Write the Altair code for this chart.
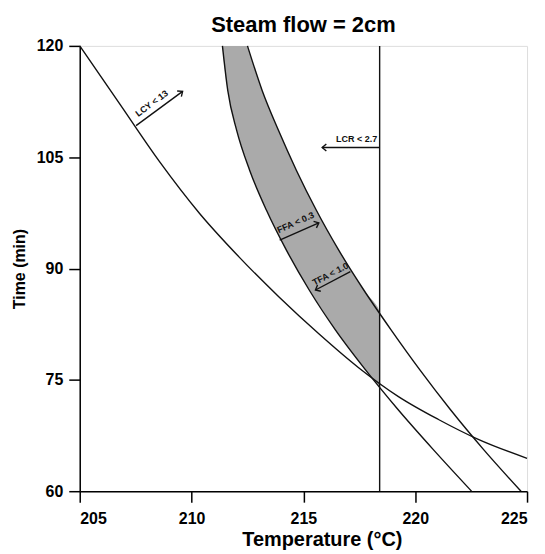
import math
import altair as alt
import pandas as pd

TITLE = "Steam flow = 2cm"
X_TITLE = "Temperature (°C)"
Y_TITLE = "Time (min)"
X_DOMAIN = [205, 225]
Y_DOMAIN = [60, 120]
X_TICKS = [205, 210, 215, 220, 225]
Y_TICKS = [60, 75, 90, 105, 120]

# LCY constraint curve (temperature, time)
LCY_T = [205.0, 206.78, 208.56, 210.35, 212.13, 213.91, 215.69, 217.47, 219.25, 221.04, 222.82, 225.0]
LCY_TIME = [120.0, 112.21, 104.43, 97.45, 91.54, 86.17, 81.21, 76.64, 72.75, 69.66, 66.98, 64.43]

# FFA and TFA constraint curves, read at common times
CURVE_TIME = [120.0, 113.96, 108.59, 103.22, 97.85, 92.48, 87.11, 81.74, 76.38, 71.01, 65.64, 60.0]
FFA_T = [211.38, 211.62, 212.02, 212.60, 213.35, 214.24, 215.26, 216.43, 217.77, 219.23, 220.80, 222.52]
TFA_T = [212.50, 213.16, 213.89, 214.69, 215.58, 216.58, 217.70, 218.92, 220.20, 221.57, 223.05, 224.73]

# LCR constraint (vertical line)
LCR_T = 218.41

# Feasible (shaded) region
GRAY_TIME = [120.0, 113.96, 108.59, 103.22, 97.85, 92.48, 87.11, 84.0, 81.74, 76.38, 74.04]
GRAY_LEFT = [211.38, 211.62, 212.02, 212.60, 213.35, 214.24, 215.26, 215.94, 216.43, 217.77, 218.41]
GRAY_RIGHT = [212.50, 213.16, 213.89, 214.69, 215.58, 216.58, 217.70, 218.41, 218.41, 218.41, 218.41]

# Arrow annotations
ARROW_LABELS = ["LCY < 13", "FFA < 0.3", "TFA < 1.0", "LCR < 2.7"]
ARROW_T0 = [207.52, 213.94, 217.10, 218.41]
ARROW_TIME0 = [109.26, 93.83, 89.57, 106.31]
ARROW_T1 = [209.60, 215.69, 215.54, 215.84]
ARROW_TIME1 = [113.87, 96.15, 87.11, 106.31]
LABEL_T = [208.22, 214.65, 216.21, 217.38]
LABEL_TIME = [112.25, 96.20, 89.26, 107.45]
LABEL_FLIP = [False, False, True, False]

W, H = 449, 447
FONT = "Liberation Sans"

px_T = W / (X_DOMAIN[1] - X_DOMAIN[0])
px_t = H / (Y_DOMAIN[1] - Y_DOMAIN[0])

rows = []
for i, lab in enumerate(ARROW_LABELS):
    dx = (ARROW_T1[i] - ARROW_T0[i]) * px_T
    dy = -(ARROW_TIME1[i] - ARROW_TIME0[i]) * px_t
    ang = math.degrees(math.atan2(dy, dx)) % 360
    tang = (ang + 180) % 360 if LABEL_FLIP[i] else ang
    if lab.startswith("LCR"):
        tang = 0
    rows.append(dict(label=lab, T0=ARROW_T0[i], t0=ARROW_TIME0[i], T1=ARROW_T1[i], t1=ARROW_TIME1[i],
                     LT=LABEL_T[i], Lt=LABEL_TIME[i], ang=round(ang, 2), tang=round(tang, 2)))
arrows = pd.DataFrame(rows)

xs = alt.Scale(domain=X_DOMAIN, nice=False, zero=False)
ys = alt.Scale(domain=Y_DOMAIN, nice=False, zero=False)

xax = alt.Axis(values=X_TICKS, title=X_TITLE, grid=False, tickSize=11, labelPadding=8,
               labelFont=FONT, labelFontSize=16, labelFontWeight="bold", labelColor="black",
               titleFont=FONT, titleFontSize=20, titleFontWeight="bold", titleColor="black",
               titlePadding=4, titleX=243, domainColor="black", tickColor="black",
               domainWidth=1.5, tickWidth=1.5)
yax = alt.Axis(values=Y_TICKS, title=Y_TITLE, grid=False, tickSize=11, labelPadding=6,
               labelFont=FONT, labelFontSize=16, labelFontWeight="bold", labelColor="black",
               titleFont=FONT, titleFontSize=16, titleFontWeight="bold", titleColor="black",
               titlePadding=9, domainColor="black", tickColor="black", domainWidth=1.5, tickWidth=1.5)

gray_df = pd.DataFrame({"t": GRAY_TIME, "L": GRAY_LEFT, "R": GRAY_RIGHT})
gray = alt.Chart(gray_df).mark_area(orient="horizontal", interpolate="monotone", color="#aaaaaa").encode(
    y=alt.Y("t:Q", scale=ys, axis=yax),
    x=alt.X("L:Q", scale=xs, axis=xax),
    x2="R:Q",
)

curves = pd.concat([
    pd.DataFrame({"curve": "LCY", "T": LCY_T, "t": LCY_TIME}),
    pd.DataFrame({"curve": "FFA", "T": FFA_T, "t": CURVE_TIME}),
    pd.DataFrame({"curve": "TFA", "T": TFA_T, "t": CURVE_TIME}),
])
lines = alt.Chart(curves).mark_line(interpolate="monotone", color="#111111", strokeWidth=1.4).encode(
    x=alt.X("T:Q", scale=xs),
    y=alt.Y("t:Q", scale=ys),
    detail="curve:N",
)

lcr = alt.Chart(pd.DataFrame({"T": [LCR_T]})).mark_rule(color="#111111", strokeWidth=1.4).encode(
    x=alt.X("T:Q", scale=xs),
)

shafts = alt.Chart(arrows).mark_rule(color="#111111", strokeWidth=1.4).encode(
    x=alt.X("T0:Q", scale=xs), x2="T1:Q",
    y=alt.Y("t0:Q", scale=ys), y2="t1:Q",
)

heads = alt.Chart(arrows).mark_point(shape="M-1,-0.85L0,0L-1,0.85", size=70, filled=False,
                                     color="#111111", strokeWidth=1.4, opacity=1).encode(
    x=alt.X("T1:Q", scale=xs),
    y=alt.Y("t1:Q", scale=ys),
    angle=alt.Angle("ang:Q", scale=None),
)

texts = alt.Chart(arrows).mark_text(font=FONT, fontSize=9, fontWeight="bold", color="#111111",
                                    align="center", baseline="middle").encode(
    x=alt.X("LT:Q", scale=xs),
    y=alt.Y("Lt:Q", scale=ys),
    text="label:N",
    angle=alt.Angle("tang:Q", scale=None),
)

chart = alt.layer(gray, lines, lcr, shafts, heads, texts).properties(
    width=W, height=H,
    title=alt.TitleParams(TITLE, font=FONT, fontSize=22, fontWeight="bold", color="black",
                          anchor="middle", offset=1),
    autosize=alt.AutoSizeParams(type="none"),
    padding={"left": 72, "top": 37, "right": 10, "bottom": 62},
).configure_view(stroke="#222222", strokeWidth=1.8).configure(background="white")

chart.save("out.html", embed_options={"renderer": "svg", "actions": False})
